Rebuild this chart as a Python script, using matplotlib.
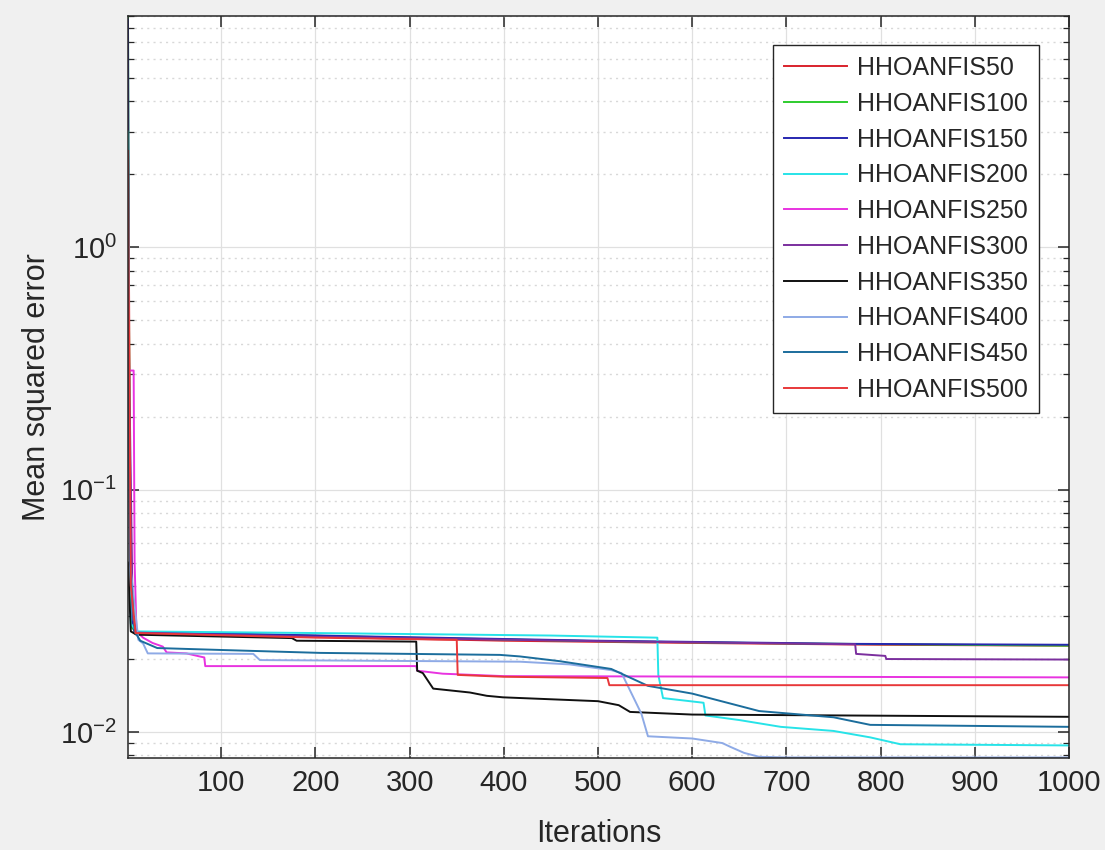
import numpy as np
import matplotlib.pyplot as plt
from matplotlib.ticker import LogLocator, NullFormatter, FixedLocator

# convergence curves, breakpoints (iteration, MSE)
labels = ['HHOANFIS50', 'HHOANFIS100', 'HHOANFIS150', 'HHOANFIS200', 'HHOANFIS250',
          'HHOANFIS300', 'HHOANFIS350', 'HHOANFIS400', 'HHOANFIS450', 'HHOANFIS500']
colors = ['#d9232c', '#2ecc2e', '#2727b0', '#27e3e8', '#e833e0',
          '#7b2f9e', '#101010', '#8eaae6', '#1b6d9c', '#e8383a']

it50 = [1, 2, 3, 5, 8, 60, 200, 400, 600, 800, 1000]
mse50 = [2.8, 0.8, 0.15, 0.035, 0.0255, 0.0253, 0.0247, 0.0238, 0.0233, 0.0229, 0.0227]

it100 = [1, 2, 3, 5, 10, 100, 300, 500, 700, 1000]
mse100 = [9.0, 0.6, 0.08, 0.027, 0.0257, 0.0254, 0.0245, 0.0237, 0.0232, 0.0227]

it150 = [1, 2, 4, 8, 100, 250, 500, 770, 1000]
mse150 = [8.7, 0.4, 0.03, 0.0258, 0.0255, 0.0248, 0.0238, 0.0231, 0.0229]

it200 = [1, 2, 4, 10, 200, 450, 563, 564, 569, 612, 614, 650, 694, 750, 789, 821, 1000]
mse200 = [3.0, 0.25, 0.028, 0.026, 0.0256, 0.025, 0.0245, 0.0172, 0.0138, 0.0132, 0.0117,
          0.0112, 0.0105, 0.0101, 0.0095, 0.0089, 0.0088]

it250 = [1, 7, 8, 10, 17, 27, 38, 42, 63, 77, 82, 83, 307, 308, 335, 400, 1000]
mse250 = [0.31, 0.31, 0.05, 0.026, 0.0245, 0.0233, 0.0225, 0.0213, 0.0211, 0.0205, 0.0203,
          0.0187, 0.0187, 0.0179, 0.0174, 0.0170, 0.0168]

it300 = [1, 3, 6, 10, 200, 500, 773, 774, 805, 806, 1000]
mse300 = [0.28, 0.2, 0.03, 0.0257, 0.0247, 0.0237, 0.023, 0.021, 0.0206, 0.0200, 0.0199]

it350 = [1, 4, 10, 175, 180, 307, 308, 314, 325, 332, 364, 382, 399, 500, 522, 534, 600, 1000]
mse350 = [0.05, 0.026, 0.0252, 0.0244, 0.0238, 0.0236, 0.0179, 0.0175, 0.0151, 0.0150,
          0.01455, 0.0141, 0.0139, 0.0134, 0.0129, 0.0121, 0.0118, 0.01155]

it400 = [1, 3, 12, 17, 22, 134, 141, 417, 470, 514, 525, 546, 553, 600, 632, 640, 655, 671, 700, 1000]
mse400 = [0.5, 0.05, 0.024, 0.0232, 0.0211, 0.0210, 0.0198, 0.0195, 0.019, 0.0180, 0.0175,
          0.0119, 0.0096, 0.0094, 0.0090, 0.0087, 0.0082, 0.0079, 0.00785, 0.00785]

it450 = [1, 3, 8, 14, 32, 99, 205, 396, 417, 459, 514, 553, 600, 671, 750, 789, 1000]
mse450 = [1.0, 0.05, 0.026, 0.0238, 0.0222, 0.0218, 0.0212, 0.0208, 0.0205, 0.0196, 0.0182,
          0.0155, 0.0144, 0.0122, 0.0115, 0.0107, 0.0105]

it500 = [1, 2, 4, 9, 200, 350, 351, 400, 510, 512, 1000]
mse500 = [2.5, 0.5, 0.04, 0.0256, 0.0245, 0.0240, 0.0172, 0.0169, 0.0167, 0.0156, 0.0156]

iters = [it50, it100, it150, it200, it250, it300, it350, it400, it450, it500]
mses = [mse50, mse100, mse150, mse200, mse250, mse300, mse350, mse400, mse450, mse500]

xticks = [100, 200, 300, 400, 500, 600, 700, 800, 900, 1000]

plt.rcParams['font.family'] = ['Liberation Sans', 'DejaVu Sans']
plt.rcParams['mathtext.fontset'] = 'custom'
plt.rcParams['mathtext.rm'] = 'Liberation Sans'
plt.rcParams['mathtext.it'] = 'Liberation Sans:italic'
plt.rcParams['mathtext.bf'] = 'Liberation Sans:bold'

txt = '#262626'
fig = plt.figure(figsize=(11.05, 8.5), dpi=100, facecolor='#f0f0f0')
ax = fig.add_axes([128 / 1105, 92 / 850, 941 / 1105, 742 / 850])
ax.set_facecolor('white')

for x, y, c, lab in zip(iters, mses, colors, labels):
    ax.semilogy(x, y, color=c, lw=1.4, label=lab)

ax.set_xlim(1, 1000)
ax.set_ylim(0.00781, 9.0)
ax.xaxis.set_major_locator(FixedLocator(xticks))
ax.yaxis.set_major_locator(LogLocator(base=10, numticks=10))
ax.yaxis.set_minor_locator(LogLocator(base=10, subs=np.arange(2, 10), numticks=20))
ax.yaxis.set_minor_formatter(NullFormatter())

ax.grid(True, which='major', color='#e0e0e0', lw=0.9, ls='-')
ax.grid(True, which='minor', axis='y', color='#d8d8d8', lw=1.0, ls=(0, (1.5, 3)))
ax.set_axisbelow(True)

ax.tick_params(which='both', direction='in', top=True, right=True, colors=txt,
               labelsize=21, pad=8)
ax.tick_params(which='major', length=8, width=1.1)
ax.tick_params(which='minor', length=4.5, width=0.9)
for sp in ax.spines.values():
    sp.set_color(txt)
    sp.set_linewidth(1.1)

ax.set_xlabel('Iterations', fontsize=22, color=txt, labelpad=16)
ax.set_ylabel('Mean squared error', fontsize=22, color=txt, labelpad=6)

leg = ax.legend(loc='upper right', bbox_to_anchor=(0.968, 0.961), borderaxespad=0,
                fontsize=18, fancybox=False, framealpha=1, edgecolor=txt,
                handlelength=2.5, handletextpad=0.4, labelspacing=0.47, borderpad=0.45)
leg.get_frame().set_linewidth(1.0)
for t in leg.get_texts():
    t.set_color(txt)

fig.savefig('out.png', dpi=100, facecolor=fig.get_facecolor())
